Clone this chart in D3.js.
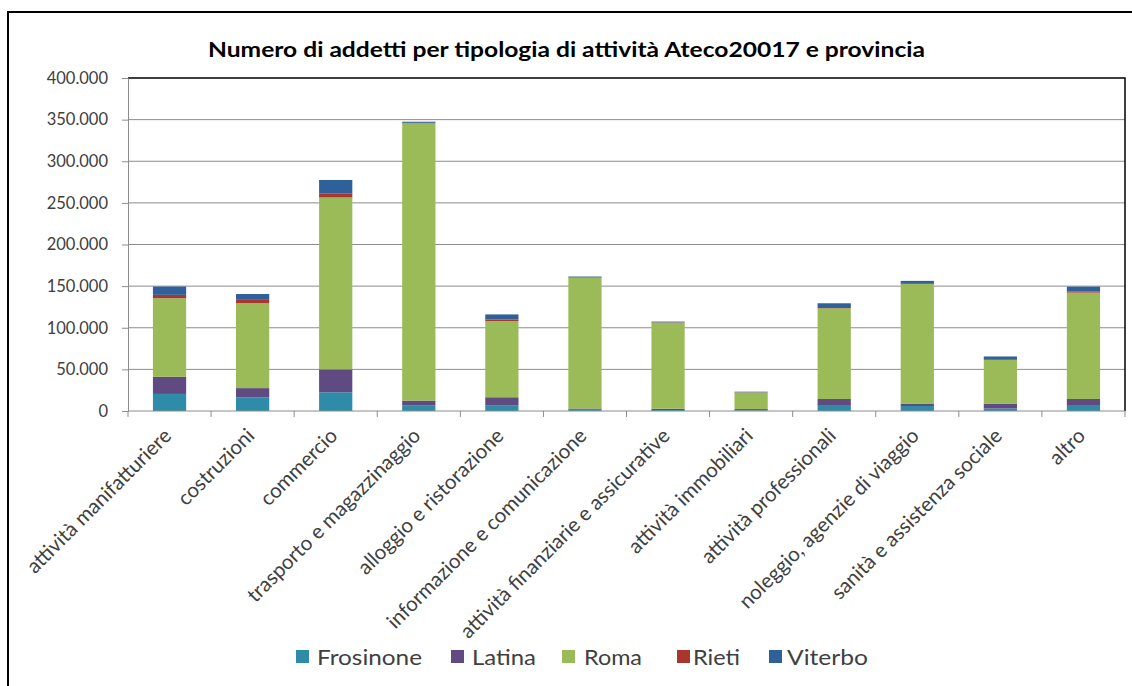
<!DOCTYPE html>
<html><head><meta charset="utf-8">
<script src="https://cdn.jsdelivr.net/npm/d3@7"></script>
<style>body{margin:0;background:#fff;} svg{display:block;}</style>
</head><body>
<svg id="c" width="1132" height="686"></svg>
<script>
const categories = ["attività manifatturiere","costruzioni","commercio","trasporto e magazzinaggio","alloggio e ristorazione","informazione e comunicazione","attività finanziarie e assicurative","attività immobiliari","attività professionali","noleggio, agenzie di viaggio","sanità e assistenza sociale","altro"];
const seriesNames = ["Frosinone","Latina","Roma","Rieti","Viterbo"];
const frosinone = [20500,16500,22500,7000,7000,1500,1200,800,7200,6000,3000,7200];
const latina    = [20500,11000,27500,5500,9500,1500,1500,1500,7200,3000,5500,7200];
const roma      = [94500,102000,206500,333000,91500,157000,103500,20000,109000,143500,53000,127800];
const rieti     = [4000,4000,5000,700,2000,500,300,200,1500,1000,1000,1500];
const viterbo   = [10000,7000,16000,1300,6000,1000,900,700,4500,2800,3000,5700];
const yTicks = [0,50000,100000,150000,200000,250000,300000,350000,400000];
const colors = ["#2E8CA8","#5F4A82","#9BBB59","#A8362F","#30609A"];
const title = "Numero di addetti per tipologia di attività Ateco20017 e provincia";

const seriesValues = [frosinone, latina, roma, rieti, viterbo];
const rows = categories.map((c,i)=>{const r={cat:c}; seriesNames.forEach((s,j)=>r[s]=seriesValues[j][i]); return r;});
const stack = d3.stack().keys(seriesNames)(rows);

const svg = d3.select("#c");
const font = "Lato, 'Open Sans', sans-serif";
const L=128,R=1125,T=78,B=411;
const x = d3.scaleBand().domain(categories).range([L,R]).paddingInner(0.6).paddingOuter(0.3);
const y = d3.scaleLinear().domain([0,400000]).range([B,T]);

// outer frame
svg.append("path").attr("d","M8,686V12H1132").attr("fill","none").attr("stroke","#000").attr("stroke-width",2);

// title
svg.append("text").attr("x",208).attr("y",57)
  .attr("font-family",font).attr("font-weight","bold").attr("font-size",21).attr("fill","#000")
  .attr("textLength",717).attr("lengthAdjust","spacingAndGlyphs").text(title);

// grid
svg.append("g").selectAll("line").data(yTicks.filter(t=>t>0&&t<400000)).join("line")
  .attr("x1",L).attr("x2",R).attr("y1",d=>y(d)).attr("y2",d=>y(d)).attr("stroke","#8C8C8C").attr("stroke-width",1);
// plot frame top/right
svg.append("path").attr("d",`M${L},${y(400000)}H${R}V${B}`).attr("fill","none").attr("stroke","#000").attr("stroke-width",1.5);

// bars
svg.append("g").selectAll("g").data(stack).join("g").attr("fill",(d,i)=>colors[i])
  .selectAll("rect").data(d=>d).join("rect")
  .attr("x",d=>x(d.data.cat)).attr("width",x.bandwidth())
  .attr("y",d=>y(d[1])).attr("height",d=>y(d[0])-y(d[1]));

// y axis
const ya = svg.append("g").attr("transform",`translate(${L},0)`)
  .call(d3.axisLeft(y).tickValues(yTicks).tickSize(6).tickPadding(14)
    .tickFormat(d=>d3.format(",")(d).replace(/,/g,".")));
ya.select(".domain").attr("stroke","#8C8C8C");
ya.selectAll(".tick line").attr("stroke","#8C8C8C");
ya.selectAll("text").attr("font-family",font).attr("font-size",16.5).attr("fill","#404040");

// x axis
const xa = svg.append("g").attr("transform",`translate(0,${B})`);
xa.append("line").attr("x1",L).attr("x2",R).attr("stroke","#8C8C8C");
const step = x.step();
xa.selectAll("line.t").data(d3.range(categories.length+1)).join("line").attr("class","t")
  .attr("x1",i=>L+i*step).attr("x2",i=>L+i*step).attr("y1",0).attr("y2",6).attr("stroke","#8C8C8C");
xa.selectAll("text").data(categories).join("text")
  .attr("transform",d=>`translate(${x(d)+x.bandwidth()/2+3},${26}) rotate(-45)`)
  .attr("text-anchor","end").attr("font-family",font).attr("font-size",20.5).attr("fill","#404040").text(d=>d);

// legend
const lg = svg.append("g");
const lx = [296,451,562,677,769];
const lt = [[317,105],[472,64],[584,58],[693,47],[787,81]];
seriesNames.forEach((s,i)=>{
  lg.append("rect").attr("x",lx[i]).attr("y",650).attr("width",13).attr("height",13).attr("fill",colors[i]);
  lg.append("text").attr("x",lt[i][0]).attr("y",665).attr("font-family",font).attr("font-size",22)
    .attr("textLength",lt[i][1]).attr("lengthAdjust","spacingAndGlyphs").attr("fill","#404040").text(s);
});
</script>
</body></html>
